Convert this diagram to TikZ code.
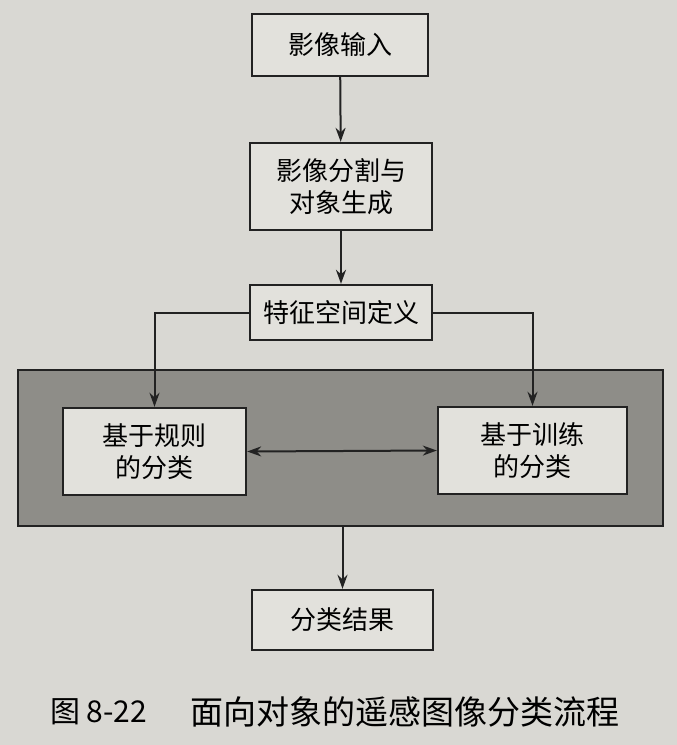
\documentclass[tikz,border=0pt]{standalone}
\usepackage{fontspec}
\newfontfamily\cjk{Noto Sans CJK SC}
\usetikzlibrary{arrows.meta}
\definecolor{paper}{HTML}{D9D8D3}
\definecolor{boxbg}{HTML}{E2E1DC}
\definecolor{shade}{HTML}{8E8D88}
\definecolor{ink}{HTML}{222222}
\begin{document}
\begin{tikzpicture}[x=1pt,y=-1pt,
  bx/.style={draw=ink,line width=2.4pt,fill=boxbg,font=\cjk\fontsize{26}{32}\selectfont,align=center,inner sep=0pt},
  ar/.style={draw=ink,line width=2pt,-{Stealth[length=14pt,width=10pt]}},
  captxt/.style={font=\cjk\fontsize{30}{34}\selectfont,anchor=west,inner sep=0pt}]
\fill[paper] (0,0) rectangle (677,745);
\useasboundingbox (0,0) rectangle (677,745);
\node[bx,minimum width=176,minimum height=62] (a) at (340,45) {影像输入};
\node[bx,minimum width=182,minimum height=87] (b) at (341,186.5) {影像分割与\\对象生成};
\node[bx,minimum width=182,minimum height=55] (c) at (341,312.5) {特征空间定义};
\node[draw=ink,line width=2.4pt,fill=shade,minimum width=645,minimum height=156,inner sep=0pt] (g) at (340.5,448) {};
\node[bx,minimum width=183,minimum height=87] (l) at (154.5,451.5) {基于规则\\的分类};
\node[bx,minimum width=189,minimum height=87] (r) at (532.5,450.5) {基于训练\\的分类};
\node[bx,minimum width=181,minimum height=60] (e) at (342.5,620) {分类结果};
\node[captxt] (cap1) at (50,712) {图 8-22};
\node[captxt,font=\cjk\fontsize{33}{36}\selectfont] (cap2) at (190,712) {面向对象的遥感图像分类流程};
\draw[ar] (a) -- (b);
\draw[ar] (b) -- (c);
\draw[ar] (c.west) -| (l.north);
\draw[ar] (c.east) -| (r.north);
\draw[ar,{Stealth[length=14pt,width=10pt]}-{Stealth[length=14pt,width=10pt]}] (l.east) -- (r.west);
\draw[ar] (g.south -| e) -- (e.north);
\end{tikzpicture}
\end{document}
